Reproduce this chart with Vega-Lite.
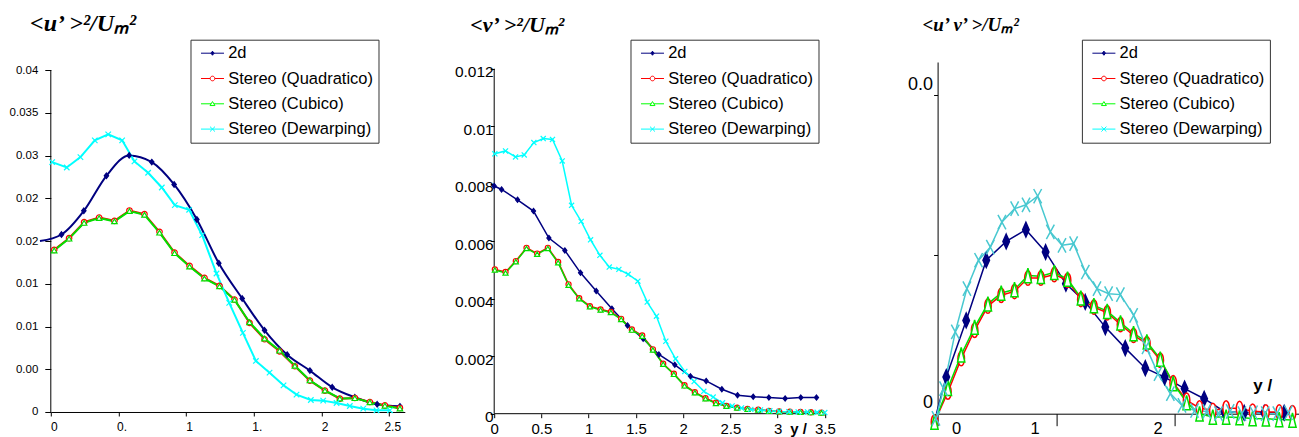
{
"$schema":"https://vega.github.io/schema/vega-lite/v6.json",
"background":"white",
"padding":{"left":8.8,"top":11,"right":0,"bottom":0},
"spacing":89.4,
"bounds":"flush",
"config":{
 "view":{"stroke":null},
 "axis":{"grid":false,"labelFont":"Liberation Sans","labelColor":"#000","domainColor":"#000","tickColor":"#000","domainWidth":1,"tickWidth":1,"labelOverlap":false,"labelFlush":false,"titleColor":"#000"},
 "legend":{"orient":"none","strokeColor":"#333","fillColor":"#fff","padding":5,"labelFont":"Liberation Sans","labelFontSize":16.5,"labelColor":"#000","symbolSize":256,"symbolStrokeWidth":1,"rowPadding":8.3,"labelOffset":15.7,"labelLimit":400,"symbolOpacity":1}
},
"resolve":{"scale":{"stroke":"independent","fill":"independent","color":"independent","shape":"independent"},"legend":{"color":"independent","shape":"independent"}},
"datasets":{
"uu":[
{"series":"2d","x":-0.08,"y":0.0200},{"series":"2d","x":0.079,"y":0.02076},{"series":"2d","x":0.244,"y":0.02353},{"series":"2d","x":0.411,"y":0.02763},{"series":"2d","x":0.579,"y":0.03001},{"series":"2d","x":0.746,"y":0.02923},{"series":"2d","x":0.911,"y":0.02661},{"series":"2d","x":1.079,"y":0.02252},{"series":"2d","x":1.241,"y":0.0174},{"series":"2d","x":1.414,"y":0.01327},{"series":"2d","x":1.579,"y":0.00956},{"series":"2d","x":1.746,"y":0.00671},{"series":"2d","x":1.914,"y":0.00484},{"series":"2d","x":2.079,"y":0.00289},{"series":"2d","x":2.246,"y":0.00172},{"series":"2d","x":2.411,"y":0.0009},{"series":"2d","x":2.579,"y":0.00066},
{"series":"Stereo (Quadratico)","x":0.025,"y":0.01897},{"series":"Stereo (Quadratico)","x":0.135,"y":0.02033},{"series":"Stereo (Quadratico)","x":0.246,"y":0.0222},{"series":"Stereo (Quadratico)","x":0.357,"y":0.02275},{"series":"Stereo (Quadratico)","x":0.47,"y":0.02236},{"series":"Stereo (Quadratico)","x":0.581,"y":0.02357},{"series":"Stereo (Quadratico)","x":0.692,"y":0.02314},{"series":"Stereo (Quadratico)","x":0.803,"y":0.02107},{"series":"Stereo (Quadratico)","x":0.914,"y":0.01865},{"series":"Stereo (Quadratico)","x":1.025,"y":0.01709},{"series":"Stereo (Quadratico)","x":1.135,"y":0.01569},{"series":"Stereo (Quadratico)","x":1.246,"y":0.01475},{"series":"Stereo (Quadratico)","x":1.357,"y":0.01315},{"series":"Stereo (Quadratico)","x":1.468,"y":0.01042},{"series":"Stereo (Quadratico)","x":1.579,"y":0.00851},{"series":"Stereo (Quadratico)","x":1.69,"y":0.0071},{"series":"Stereo (Quadratico)","x":1.803,"y":0.00535},{"series":"Stereo (Quadratico)","x":1.914,"y":0.00367},{"series":"Stereo (Quadratico)","x":2.025,"y":0.0025},{"series":"Stereo (Quadratico)","x":2.135,"y":0.00156},{"series":"Stereo (Quadratico)","x":2.246,"y":0.00164},{"series":"Stereo (Quadratico)","x":2.357,"y":0.00117},{"series":"Stereo (Quadratico)","x":2.468,"y":0.00078},{"series":"Stereo (Quadratico)","x":2.579,"y":0.00047},
{"series":"Stereo (Cubico)","x":0.025,"y":0.0189},{"series":"Stereo (Cubico)","x":0.135,"y":0.02028},{"series":"Stereo (Cubico)","x":0.246,"y":0.02212},{"series":"Stereo (Cubico)","x":0.357,"y":0.02268},{"series":"Stereo (Cubico)","x":0.47,"y":0.0223},{"series":"Stereo (Cubico)","x":0.581,"y":0.0235},{"series":"Stereo (Cubico)","x":0.692,"y":0.02306},{"series":"Stereo (Cubico)","x":0.803,"y":0.02098},{"series":"Stereo (Cubico)","x":0.914,"y":0.01858},{"series":"Stereo (Cubico)","x":1.025,"y":0.01702},{"series":"Stereo (Cubico)","x":1.135,"y":0.01562},{"series":"Stereo (Cubico)","x":1.246,"y":0.0147},{"series":"Stereo (Cubico)","x":1.357,"y":0.01312},{"series":"Stereo (Cubico)","x":1.468,"y":0.0105},{"series":"Stereo (Cubico)","x":1.579,"y":0.0086},{"series":"Stereo (Cubico)","x":1.69,"y":0.00718},{"series":"Stereo (Cubico)","x":1.803,"y":0.0054},{"series":"Stereo (Cubico)","x":1.914,"y":0.0037},{"series":"Stereo (Cubico)","x":2.025,"y":0.00252},{"series":"Stereo (Cubico)","x":2.135,"y":0.00158},{"series":"Stereo (Cubico)","x":2.246,"y":0.00162},{"series":"Stereo (Cubico)","x":2.357,"y":0.00114},{"series":"Stereo (Cubico)","x":2.468,"y":0.00074},{"series":"Stereo (Cubico)","x":2.579,"y":0.00042},
{"series":"Stereo (Dewarping)","x":0.01,"y":0.02923},{"series":"Stereo (Dewarping)","x":0.118,"y":0.0286},{"series":"Stereo (Dewarping)","x":0.219,"y":0.02981},{"series":"Stereo (Dewarping)","x":0.325,"y":0.03177},{"series":"Stereo (Dewarping)","x":0.424,"y":0.03247},{"series":"Stereo (Dewarping)","x":0.527,"y":0.03177},{"series":"Stereo (Dewarping)","x":0.618,"y":0.02931},{"series":"Stereo (Dewarping)","x":0.719,"y":0.02798},{"series":"Stereo (Dewarping)","x":0.82,"y":0.02626},{"series":"Stereo (Dewarping)","x":0.916,"y":0.0242},{"series":"Stereo (Dewarping)","x":1.022,"y":0.02365},{"series":"Stereo (Dewarping)","x":1.118,"y":0.02068},{"series":"Stereo (Dewarping)","x":1.224,"y":0.0162},{"series":"Stereo (Dewarping)","x":1.318,"y":0.01276},{"series":"Stereo (Dewarping)","x":1.419,"y":0.00925},{"series":"Stereo (Dewarping)","x":1.515,"y":0.00597},{"series":"Stereo (Dewarping)","x":1.616,"y":0.0046},{"series":"Stereo (Dewarping)","x":1.719,"y":0.00312},{"series":"Stereo (Dewarping)","x":1.815,"y":0.00203},{"series":"Stereo (Dewarping)","x":1.921,"y":0.0014},{"series":"Stereo (Dewarping)","x":2.012,"y":0.00133},{"series":"Stereo (Dewarping)","x":2.111,"y":0.00105},{"series":"Stereo (Dewarping)","x":2.209,"y":0.0007},{"series":"Stereo (Dewarping)","x":2.308,"y":0.00039},{"series":"Stereo (Dewarping)","x":2.406,"y":0.0002},{"series":"Stereo (Dewarping)","x":2.505,"y":0.0002}
],
"vv":[
{"series":"2d","x":0,"y":0.00792},{"series":"2d","x":0.078,"y":0.0078},{"series":"2d","x":0.247,"y":0.00744},{"series":"2d","x":0.416,"y":0.00705},{"series":"2d","x":0.579,"y":0.00611},{"series":"2d","x":0.748,"y":0.00568},{"series":"2d","x":0.914,"y":0.0049},{"series":"2d","x":1.08,"y":0.00427},{"series":"2d","x":1.246,"y":0.00365},{"series":"2d","x":1.411,"y":0.00307},{"series":"2d","x":1.577,"y":0.00261},{"series":"2d","x":1.743,"y":0.00206},{"series":"2d","x":1.912,"y":0.0017},{"series":"2d","x":2.078,"y":0.0013},{"series":"2d","x":2.244,"y":0.00114},{"series":"2d","x":2.41,"y":0.00085},{"series":"2d","x":2.576,"y":0.00064},{"series":"2d","x":2.742,"y":0.00059},{"series":"2d","x":2.908,"y":0.00056},{"series":"2d","x":3.08,"y":0.00053},{"series":"2d","x":3.246,"y":0.00056},{"series":"2d","x":3.412,"y":0.00056},
{"series":"Stereo (Quadratico)","x":0.007,"y":0.00502},{"series":"Stereo (Quadratico)","x":0.12,"y":0.00493},{"series":"Stereo (Quadratico)","x":0.229,"y":0.00531},{"series":"Stereo (Quadratico)","x":0.342,"y":0.00577},{"series":"Stereo (Quadratico)","x":0.455,"y":0.00557},{"series":"Stereo (Quadratico)","x":0.568,"y":0.00577},{"series":"Stereo (Quadratico)","x":0.677,"y":0.00528},{"series":"Stereo (Quadratico)","x":0.787,"y":0.0045},{"series":"Stereo (Quadratico)","x":0.9,"y":0.00402},{"series":"Stereo (Quadratico)","x":1.013,"y":0.00374},{"series":"Stereo (Quadratico)","x":1.126,"y":0.00363},{"series":"Stereo (Quadratico)","x":1.235,"y":0.00354},{"series":"Stereo (Quadratico)","x":1.344,"y":0.0033},{"series":"Stereo (Quadratico)","x":1.457,"y":0.00293},{"series":"Stereo (Quadratico)","x":1.567,"y":0.00272},{"series":"Stereo (Quadratico)","x":1.68,"y":0.00224},{"series":"Stereo (Quadratico)","x":1.789,"y":0.00174},{"series":"Stereo (Quadratico)","x":1.902,"y":0.00139},{"series":"Stereo (Quadratico)","x":2.015,"y":0.00099},{"series":"Stereo (Quadratico)","x":2.124,"y":0.00075},{"series":"Stereo (Quadratico)","x":2.237,"y":0.00054},{"series":"Stereo (Quadratico)","x":2.347,"y":0.00038},{"series":"Stereo (Quadratico)","x":2.459,"y":0.00027},{"series":"Stereo (Quadratico)","x":2.572,"y":0.00021},{"series":"Stereo (Quadratico)","x":2.682,"y":0.00017},{"series":"Stereo (Quadratico)","x":2.795,"y":0.00014},{"series":"Stereo (Quadratico)","x":2.908,"y":0.0001},{"series":"Stereo (Quadratico)","x":3.017,"y":0.00008},{"series":"Stereo (Quadratico)","x":3.13,"y":0.00007},{"series":"Stereo (Quadratico)","x":3.243,"y":0.00006},{"series":"Stereo (Quadratico)","x":3.352,"y":0.00005},{"series":"Stereo (Quadratico)","x":3.465,"y":0.00004},
{"series":"Stereo (Cubico)","x":0.007,"y":0.005},{"series":"Stereo (Cubico)","x":0.12,"y":0.0049},{"series":"Stereo (Cubico)","x":0.229,"y":0.00529},{"series":"Stereo (Cubico)","x":0.342,"y":0.00575},{"series":"Stereo (Cubico)","x":0.455,"y":0.00555},{"series":"Stereo (Cubico)","x":0.568,"y":0.00575},{"series":"Stereo (Cubico)","x":0.677,"y":0.00525},{"series":"Stereo (Cubico)","x":0.787,"y":0.00447},{"series":"Stereo (Cubico)","x":0.9,"y":0.004},{"series":"Stereo (Cubico)","x":1.013,"y":0.00372},{"series":"Stereo (Cubico)","x":1.126,"y":0.00361},{"series":"Stereo (Cubico)","x":1.235,"y":0.00352},{"series":"Stereo (Cubico)","x":1.344,"y":0.00328},{"series":"Stereo (Cubico)","x":1.457,"y":0.00291},{"series":"Stereo (Cubico)","x":1.567,"y":0.0027},{"series":"Stereo (Cubico)","x":1.68,"y":0.00222},{"series":"Stereo (Cubico)","x":1.789,"y":0.00172},{"series":"Stereo (Cubico)","x":1.902,"y":0.00137},{"series":"Stereo (Cubico)","x":2.015,"y":0.00097},{"series":"Stereo (Cubico)","x":2.124,"y":0.00073},{"series":"Stereo (Cubico)","x":2.237,"y":0.00052},{"series":"Stereo (Cubico)","x":2.347,"y":0.00036},{"series":"Stereo (Cubico)","x":2.459,"y":0.00026},{"series":"Stereo (Cubico)","x":2.572,"y":0.0002},{"series":"Stereo (Cubico)","x":2.682,"y":0.00016},{"series":"Stereo (Cubico)","x":2.795,"y":0.00013},{"series":"Stereo (Cubico)","x":2.908,"y":0.00009},{"series":"Stereo (Cubico)","x":3.017,"y":0.00007},{"series":"Stereo (Cubico)","x":3.13,"y":0.00006},{"series":"Stereo (Cubico)","x":3.243,"y":0.00005},{"series":"Stereo (Cubico)","x":3.352,"y":0.00004},{"series":"Stereo (Cubico)","x":3.465,"y":0.00003},
{"series":"Stereo (Dewarping)","x":0.007,"y":0.00904},{"series":"Stereo (Dewarping)","x":0.12,"y":0.00914},{"series":"Stereo (Dewarping)","x":0.226,"y":0.00893},{"series":"Stereo (Dewarping)","x":0.318,"y":0.009},{"series":"Stereo (Dewarping)","x":0.42,"y":0.00943},{"series":"Stereo (Dewarping)","x":0.519,"y":0.00957},{"series":"Stereo (Dewarping)","x":0.617,"y":0.00954},{"series":"Stereo (Dewarping)","x":0.72,"y":0.00879},{"series":"Stereo (Dewarping)","x":0.819,"y":0.00725},{"series":"Stereo (Dewarping)","x":0.921,"y":0.00669},{"series":"Stereo (Dewarping)","x":1.02,"y":0.00605},{"series":"Stereo (Dewarping)","x":1.119,"y":0.00551},{"series":"Stereo (Dewarping)","x":1.218,"y":0.0051},{"series":"Stereo (Dewarping)","x":1.32,"y":0.00502},{"series":"Stereo (Dewarping)","x":1.418,"y":0.00485},{"series":"Stereo (Dewarping)","x":1.521,"y":0.00461},{"series":"Stereo (Dewarping)","x":1.62,"y":0.00388},{"series":"Stereo (Dewarping)","x":1.718,"y":0.00339},{"series":"Stereo (Dewarping)","x":1.817,"y":0.00252},{"series":"Stereo (Dewarping)","x":1.92,"y":0.00191},{"series":"Stereo (Dewarping)","x":2.018,"y":0.00147},{"series":"Stereo (Dewarping)","x":2.117,"y":0.00112},{"series":"Stereo (Dewarping)","x":2.219,"y":0.00078},{"series":"Stereo (Dewarping)","x":2.318,"y":0.00058},{"series":"Stereo (Dewarping)","x":2.417,"y":0.00038},{"series":"Stereo (Dewarping)","x":2.519,"y":0.00027},{"series":"Stereo (Dewarping)","x":2.618,"y":0.0002},{"series":"Stereo (Dewarping)","x":2.717,"y":0.00015},{"series":"Stereo (Dewarping)","x":2.819,"y":0.00013},{"series":"Stereo (Dewarping)","x":2.918,"y":0.0001},{"series":"Stereo (Dewarping)","x":3.017,"y":0.00008},{"series":"Stereo (Dewarping)","x":3.119,"y":0.00007},{"series":"Stereo (Dewarping)","x":3.218,"y":0.00006},{"series":"Stereo (Dewarping)","x":3.317,"y":0.00006},{"series":"Stereo (Dewarping)","x":3.419,"y":0.00005},{"series":"Stereo (Dewarping)","x":3.5,"y":0.00004}
],
"uv":[
{"series":"2d","x":-0.01,"y":0.0},{"series":"2d","x":0.073,"y":0.00115},{"series":"2d","x":0.241,"y":0.00293},{"series":"2d","x":0.41,"y":0.00482},{"series":"2d","x":0.578,"y":0.00541},{"series":"2d","x":0.744,"y":0.00578},{"series":"2d","x":0.91,"y":0.00508},{"series":"2d","x":1.081,"y":0.00408},{"series":"2d","x":1.244,"y":0.00351},{"series":"2d","x":1.413,"y":0.00272},{"series":"2d","x":1.581,"y":0.00206},{"series":"2d","x":1.75,"y":0.00143},{"series":"2d","x":1.913,"y":0.00115},{"series":"2d","x":2.081,"y":0.00079},{"series":"2d","x":2.246,"y":0.00047},{"series":"2d","x":2.415,"y":0.00007},{"series":"2d","x":2.583,"y":0.00003},{"series":"2d","x":2.752,"y":0.00003},{"series":"2d","x":2.92,"y":0.00003},
{"series":"Stereo (Quadratico)","x":-0.026,"y":-0.00026},{"series":"Stereo (Quadratico)","x":0.087,"y":0.00068},{"series":"Stereo (Quadratico)","x":0.199,"y":0.00173},{"series":"Stereo (Quadratico)","x":0.312,"y":0.00262},{"series":"Stereo (Quadratico)","x":0.424,"y":0.00338},{"series":"Stereo (Quadratico)","x":0.536,"y":0.00372},{"series":"Stereo (Quadratico)","x":0.648,"y":0.00384},{"series":"Stereo (Quadratico)","x":0.761,"y":0.00426},{"series":"Stereo (Quadratico)","x":0.87,"y":0.00426},{"series":"Stereo (Quadratico)","x":0.983,"y":0.00437},{"series":"Stereo (Quadratico)","x":1.095,"y":0.00419},{"series":"Stereo (Quadratico)","x":1.207,"y":0.00359},{"series":"Stereo (Quadratico)","x":1.317,"y":0.00335},{"series":"Stereo (Quadratico)","x":1.429,"y":0.00317},{"series":"Stereo (Quadratico)","x":1.541,"y":0.0028},{"series":"Stereo (Quadratico)","x":1.651,"y":0.00246},{"series":"Stereo (Quadratico)","x":1.763,"y":0.0022},{"series":"Stereo (Quadratico)","x":1.876,"y":0.00168},{"series":"Stereo (Quadratico)","x":1.985,"y":0.00097},{"series":"Stereo (Quadratico)","x":2.098,"y":0.00042},{"series":"Stereo (Quadratico)","x":2.207,"y":0.00018},{"series":"Stereo (Quadratico)","x":2.319,"y":0.0001},{"series":"Stereo (Quadratico)","x":2.431,"y":0.00018},{"series":"Stereo (Quadratico)","x":2.544,"y":0.00016},{"series":"Stereo (Quadratico)","x":2.654,"y":0.00008},{"series":"Stereo (Quadratico)","x":2.766,"y":0.00005},{"series":"Stereo (Quadratico)","x":2.878,"y":0.00005},{"series":"Stereo (Quadratico)","x":2.99,"y":0.00003},
{"series":"Stereo (Cubico)","x":-0.026,"y":-0.00026},{"series":"Stereo (Cubico)","x":0.087,"y":0.0008},{"series":"Stereo (Cubico)","x":0.199,"y":0.00185},{"series":"Stereo (Cubico)","x":0.312,"y":0.00272},{"series":"Stereo (Cubico)","x":0.424,"y":0.00345},{"series":"Stereo (Cubico)","x":0.536,"y":0.00379},{"series":"Stereo (Cubico)","x":0.648,"y":0.0039},{"series":"Stereo (Cubico)","x":0.761,"y":0.00434},{"series":"Stereo (Cubico)","x":0.87,"y":0.00432},{"series":"Stereo (Cubico)","x":0.983,"y":0.00444},{"series":"Stereo (Cubico)","x":1.095,"y":0.00423},{"series":"Stereo (Cubico)","x":1.207,"y":0.00364},{"series":"Stereo (Cubico)","x":1.317,"y":0.0034},{"series":"Stereo (Cubico)","x":1.429,"y":0.00322},{"series":"Stereo (Cubico)","x":1.541,"y":0.00286},{"series":"Stereo (Cubico)","x":1.651,"y":0.00252},{"series":"Stereo (Cubico)","x":1.763,"y":0.00226},{"series":"Stereo (Cubico)","x":1.876,"y":0.00172},{"series":"Stereo (Cubico)","x":1.985,"y":0.00095},{"series":"Stereo (Cubico)","x":2.098,"y":0.00035},{"series":"Stereo (Cubico)","x":2.207,"y":0.0},{"series":"Stereo (Cubico)","x":2.319,"y":-0.0001},{"series":"Stereo (Cubico)","x":2.431,"y":-0.0001},{"series":"Stereo (Cubico)","x":2.544,"y":-0.00012},{"series":"Stereo (Cubico)","x":2.654,"y":-0.00015},{"series":"Stereo (Cubico)","x":2.766,"y":-0.00016},{"series":"Stereo (Cubico)","x":2.878,"y":-0.00018},{"series":"Stereo (Cubico)","x":2.99,"y":-0.0002},
{"series":"Stereo (Dewarping)","x":-0.014,"y":-0.00015},{"series":"Stereo (Dewarping)","x":0.05,"y":0.00079},{"series":"Stereo (Dewarping)","x":0.149,"y":0.00257},{"series":"Stereo (Dewarping)","x":0.247,"y":0.00393},{"series":"Stereo (Dewarping)","x":0.345,"y":0.00482},{"series":"Stereo (Dewarping)","x":0.444,"y":0.00523},{"series":"Stereo (Dewarping)","x":0.542,"y":0.00602},{"series":"Stereo (Dewarping)","x":0.649,"y":0.00644},{"series":"Stereo (Dewarping)","x":0.745,"y":0.00656},{"series":"Stereo (Dewarping)","x":0.843,"y":0.00683},{"series":"Stereo (Dewarping)","x":0.95,"y":0.00571},{"series":"Stereo (Dewarping)","x":1.048,"y":0.00529},{"series":"Stereo (Dewarping)","x":1.146,"y":0.00534},{"series":"Stereo (Dewarping)","x":1.245,"y":0.00445},{"series":"Stereo (Dewarping)","x":1.343,"y":0.00393},{"series":"Stereo (Dewarping)","x":1.441,"y":0.00377},{"series":"Stereo (Dewarping)","x":1.54,"y":0.00374},{"series":"Stereo (Dewarping)","x":1.652,"y":0.00309},{"series":"Stereo (Dewarping)","x":1.756,"y":0.0021},{"series":"Stereo (Dewarping)","x":1.857,"y":0.00126},{"series":"Stereo (Dewarping)","x":1.961,"y":0.00063},{"series":"Stereo (Dewarping)","x":2.059,"y":0.00026},{"series":"Stereo (Dewarping)","x":2.165,"y":0.0001},{"series":"Stereo (Dewarping)","x":2.268,"y":0.00007},{"series":"Stereo (Dewarping)","x":2.367,"y":0.0},{"series":"Stereo (Dewarping)","x":2.465,"y":0.00007},{"series":"Stereo (Dewarping)","x":2.564,"y":0.0},{"series":"Stereo (Dewarping)","x":2.662,"y":0.00003},{"series":"Stereo (Dewarping)","x":2.76,"y":0.0},{"series":"Stereo (Dewarping)","x":2.858,"y":0.0},{"series":"Stereo (Dewarping)","x":2.956,"y":0.00003}
]
},
"hconcat":[
{
 "width":354,"height":350,
 "data":{"name":"uu"},
 "layer":[
  {"data":{"values":[{}]},"mark":{"type":"rule","color":"#000","strokeWidth":1},"encoding":{"x":{"datum":0,"type":"quantitative"},"y":{"datum":0,"type":"quantitative"},"y2":{"datum":0.04}}},
  {"transform":[{"filter":"datum.series=='2d'"}],"mark":{"type":"line","interpolate":"monotone","strokeWidth":2},
   "encoding":{
    "x":{"field":"x","type":"quantitative","scale":{"domain":[0,2.615],"nice":false,"zero":false},"axis":{"values":[0,0.5,1,1.5,2,2.5],"labelExpr":"datum.value==0.5?'0.':datum.value==1.5?'1.':format(datum.value,'~g')","labelFontSize":12,"tickSize":4,"labelPadding":6,"labelOffset":3,"title":null}},
    "y":{"field":"y","type":"quantitative","scale":{"domain":[0,0.040936],"nice":false,"zero":false},"axis":{"values":[0,0.005,0.01,0.015,0.02,0.025,0.03,0.035,0.04],"labelExpr":"datum.value==0?'0':abs(datum.value-0.035)<0.000001?'0.035':substring(format(datum.value,'.3f'),0,4)","labelFontSize":11.5,"tickSize":6,"labelPadding":7,"domain":false,"title":"<u’ >²/Uₘ²","titleAngle":0,"titleAlign":"left","titleBaseline":"alphabetic","titleX":-21.3,"titleY":-31.7,"titleFont":"Liberation Serif","titleFontStyle":"italic","titleFontWeight":"bold","titleFontSize":24}},
    "stroke":{"field":"series","type":"nominal","scale":{"domain":["2d","Stereo (Quadratico)","Stereo (Cubico)","Stereo (Dewarping)"],"range":["#000080","#FF0000","#00E000","#00FFFF"]},"legend":null}
   }},
  {"transform":[{"filter":"datum.series!='2d'"}],"mark":{"type":"line","strokeWidth":2},
   "encoding":{"x":{"field":"x","type":"quantitative"},"y":{"field":"y","type":"quantitative"},
    "stroke":{"field":"series","type":"nominal","scale":{"domain":["2d","Stereo (Quadratico)","Stereo (Cubico)","Stereo (Dewarping)"],"range":["#000080","#FF0000","#00E000","#00FFFF"]},"legend":null}}},
  {"transform":[{"filter":"datum.x>=0"}],"mark":{"type":"point","filled":true,"opacity":1,"strokeWidth":1.2,"size":30},
   "encoding":{"x":{"field":"x","type":"quantitative"},"y":{"field":"y","type":"quantitative"},
    "stroke":{"field":"series","type":"nominal","scale":{"domain":["2d","Stereo (Quadratico)","Stereo (Cubico)","Stereo (Dewarping)"],"range":["#000080","#FF0000","#00E000","#00FFFF"]},"legend":null},
    "fill":{"field":"series","type":"nominal","scale":{"domain":["2d","Stereo (Quadratico)","Stereo (Cubico)","Stereo (Dewarping)"],"range":["#000080","#FFFFFF","#FFFFFF","#FFFFFF"]},"legend":null},
    "shape":{"field":"series","type":"nominal","scale":{"domain":["2d","Stereo (Quadratico)","Stereo (Cubico)","Stereo (Dewarping)"],"range":["M0,-1L0.8,0L0,1L-0.8,0Z","circle","triangle-up","M-1,-1L1,1M-1,1L1,-1"]},"legend":null}}},
  {"data":{"values":[{"series":"2d"}]},"transform":[{"filter":"false"}],"mark":{"type":"point","filled":false,"fill":"#FFFFFF","strokeWidth":1,"opacity":1},
   "encoding":{
    "color":{"field":"series","type":"nominal","scale":{"domain":["2d","Stereo (Quadratico)","Stereo (Cubico)","Stereo (Dewarping)"],"range":["#000080","#FF0000","#00FF00","#00FFFF"]},"legend":{"title":null,"legendX":139.7,"legendY":-22.3}},
    "shape":{"field":"series","type":"nominal","scale":{"domain":["2d","Stereo (Quadratico)","Stereo (Cubico)","Stereo (Dewarping)"],"range":["M-0.375,0H2.5M1.0625,-0.25L1.27,0L1.0625,0.25L0.855,0ZM1.0625,-0.12L1.165,0L1.0625,0.12L0.96,0ZM1.0625,-0.25V0.25","M-0.375,0H0.7725M1.3525,0H2.5M1.3525,0A0.29,0.29 0 1,1 0.7725,0A0.29,0.29 0 1,1 1.3525,0Z","M-0.375,0H0.889M1.236,0H2.5M1.0625,-0.28L1.3725,0.22L0.7525,0.22Z","M-0.375,0H2.5M0.75,-0.31L1.375,0.31M0.75,0.31L1.375,-0.31"]},"legend":{"title":null,"legendX":139.7,"legendY":-22.3}}
   }}
 ],
 "resolve":{"scale":{"shape":"independent","color":"independent"}}
},
{
 "width":353.6,"height":351.7,
 "data":{"name":"vv"},
 "layer":[
  {"data":{"values":[{}]},"mark":{"type":"rule","color":"#000","strokeWidth":1},"encoding":{"x":{"datum":0,"type":"quantitative"},"y":{"datum":0,"type":"quantitative"},"y2":{"datum":0.012}}},
  {"data":{"values":[{}]},"mark":{"type":"rule","color":"#000","strokeWidth":1},"encoding":{"x":{"datum":0,"type":"quantitative"},"x2":{"datum":3.5},"y":{"datum":0,"type":"quantitative"}}},
  {"mark":{"type":"line","strokeWidth":1.5},
   "encoding":{
    "x":{"field":"x","type":"quantitative","scale":{"domain":[0,3.7434],"nice":false,"zero":false},"axis":{"values":[0,0.5,1,1.5,2,2.5,3,3.5],"labelExpr":"format(datum.value,'~g')","labelFontSize":15,"tickSize":4,"labelPadding":4,"domain":false,"title":"y /","titleFont":"Liberation Sans","titleFontWeight":"bold","titleFontSize":15,"titleAngle":0,"titleAlign":"center","titleBaseline":"middle","titleX":304,"titleY":14.5}},
    "y":{"field":"y","type":"quantitative","scale":{"domain":[0,0.012233],"nice":false,"zero":false},"axis":{"values":[0,0.002,0.004,0.006,0.008,0.01,0.012],"labelExpr":"format(datum.value,'~g')","labelFontSize":15.5,"tickSize":4,"labelPadding":-3,"labelOffset":3,"domain":false,"title":"<v’ >²/Uₘ²","titleAngle":0,"titleAlign":"left","titleBaseline":"alphabetic","titleX":-24.4,"titleY":-30.7,"titleFont":"Liberation Serif","titleFontStyle":"italic","titleFontWeight":"bold","titleFontSize":22}},
    "stroke":{"field":"series","type":"nominal","scale":{"domain":["2d","Stereo (Quadratico)","Stereo (Cubico)","Stereo (Dewarping)"],"range":["#000080","#FF0000","#00E000","#00FFFF"]},"legend":null}
   }},
  {"mark":{"type":"point","filled":true,"opacity":1,"strokeWidth":1.2,"size":26},
   "encoding":{"x":{"field":"x","type":"quantitative"},"y":{"field":"y","type":"quantitative"},
    "stroke":{"field":"series","type":"nominal","scale":{"domain":["2d","Stereo (Quadratico)","Stereo (Cubico)","Stereo (Dewarping)"],"range":["#000080","#FF0000","#00E000","#00FFFF"]},"legend":null},
    "fill":{"field":"series","type":"nominal","scale":{"domain":["2d","Stereo (Quadratico)","Stereo (Cubico)","Stereo (Dewarping)"],"range":["#000080","#FFFFFF","#FFFFFF","#FFFFFF"]},"legend":null},
    "shape":{"field":"series","type":"nominal","scale":{"domain":["2d","Stereo (Quadratico)","Stereo (Cubico)","Stereo (Dewarping)"],"range":["M0,-1L0.8,0L0,1L-0.8,0Z","circle","triangle-up","M-1,-1L1,1M-1,1L1,-1"]},"legend":null}}},
  {"data":{"values":[{"series":"2d"}]},"transform":[{"filter":"false"}],"mark":{"type":"point","filled":false,"fill":"#FFFFFF","strokeWidth":1,"opacity":1},
   "encoding":{
    "color":{"field":"series","type":"nominal","scale":{"domain":["2d","Stereo (Quadratico)","Stereo (Cubico)","Stereo (Dewarping)"],"range":["#000080","#FF0000","#00FF00","#00FFFF"]},"legend":{"title":null,"legendX":136.3,"legendY":-22.3}},
    "shape":{"field":"series","type":"nominal","scale":{"domain":["2d","Stereo (Quadratico)","Stereo (Cubico)","Stereo (Dewarping)"],"range":["M-0.375,0H2.5M1.0625,-0.25L1.27,0L1.0625,0.25L0.855,0ZM1.0625,-0.12L1.165,0L1.0625,0.12L0.96,0ZM1.0625,-0.25V0.25","M-0.375,0H0.7725M1.3525,0H2.5M1.3525,0A0.29,0.29 0 1,1 0.7725,0A0.29,0.29 0 1,1 1.3525,0Z","M-0.375,0H0.889M1.236,0H2.5M1.0625,-0.28L1.3725,0.22L0.7525,0.22Z","M-0.375,0H2.5M0.75,-0.31L1.375,0.31M0.75,0.31L1.375,-0.31"]},"legend":{"title":null,"legendX":136.3,"legendY":-22.3}}
   }}
 ],
 "resolve":{"scale":{"shape":"independent","color":"independent"}}
},
{
 "width":362,"height":351.7,
 "data":{"name":"uv"},
 "layer":[
  {"mark":{"type":"line","strokeWidth":1.5},
   "encoding":{
    "x":{"field":"x","type":"quantitative","scale":{"domain":[0,3.05],"nice":false,"zero":false},"axis":{"values":[0,1,2,3],"labelExpr":"datum.value==3?'':format(datum.value,'d')","labelFontSize":16.5,"tickSize":12,"labelPadding":-5,"labelOffset":{"condition":[{"test":"datum.value==0","value":18.6},{"test":"datum.value==1","value":-21.6}],"value":-17.3},"title":"y /","titleFont":"Liberation Sans","titleFontWeight":"bold","titleFontSize":17,"titleAngle":0,"titleAlign":"center","titleBaseline":"middle","titleX":324.6,"titleY":-28.4}},
    "y":{"field":"y","type":"quantitative","scale":{"domain":[0,0.011046],"nice":false,"zero":false},"axis":{"values":[0,0.005,0.01],"labelExpr":"datum.value==0?'0':datum.value==0.01?'0.0':''","labelFontSize":18,"tickSize":4,"labelPadding":1,"labelOffset":-11,"title":"<u’ v’ >/Uₘ²","titleAngle":0,"titleAlign":"left","titleBaseline":"alphabetic","titleX":-15.7,"titleY":-31.7,"titleFont":"Liberation Serif","titleFontStyle":"italic","titleFontWeight":"bold","titleFontSize":19}},
    "stroke":{"field":"series","type":"nominal","scale":{"domain":["2d","Stereo (Quadratico)","Stereo (Cubico)","Stereo (Dewarping)"],"range":["#000080","#FF0000","#00E000","#48C8D0"]},"legend":null}
   }},
  {"transform":[{"filter":"!(datum.series=='2d' && datum.x<0.02)"}],"mark":{"type":"point","filled":true,"opacity":1,"strokeWidth":1.5,"size":210},
   "encoding":{"x":{"field":"x","type":"quantitative"},"y":{"field":"y","type":"quantitative"},
    "stroke":{"field":"series","type":"nominal","scale":{"domain":["2d","Stereo (Quadratico)","Stereo (Cubico)","Stereo (Dewarping)"],"range":["#000080","#FF0000","#00E000","#48C8D0"]},"legend":null},
    "fill":{"field":"series","type":"nominal","scale":{"domain":["2d","Stereo (Quadratico)","Stereo (Cubico)","Stereo (Dewarping)"],"range":["#000080","#FFFFFF","#FFFFFF","#FFFFFF"]},"legend":null},
    "shape":{"field":"series","type":"nominal","scale":{"domain":["2d","Stereo (Quadratico)","Stereo (Cubico)","Stereo (Dewarping)"],"range":["M0,-1L0.45,0L0,1L-0.45,0Z","M0.45,0A0.45,1 0 1,1 -0.45,0A0.45,1 0 1,1 0.45,0Z","M0,-1L0.5,1L-0.5,1Z","M-0.55,-1L0.55,1M-0.55,1L0.55,-1"]},"legend":null}}},
  {"data":{"values":[{"series":"2d"}]},"transform":[{"filter":"false"}],"mark":{"type":"point","filled":false,"fill":"#FFFFFF","strokeWidth":1,"opacity":1},
   "encoding":{
    "color":{"field":"series","type":"nominal","scale":{"domain":["2d","Stereo (Quadratico)","Stereo (Cubico)","Stereo (Dewarping)"],"range":["#000080","#FF0000","#00FF00","#00FFFF"]},"legend":{"title":null,"legendX":144.3,"legendY":-22.3}},
    "shape":{"field":"series","type":"nominal","scale":{"domain":["2d","Stereo (Quadratico)","Stereo (Cubico)","Stereo (Dewarping)"],"range":["M-0.375,0H2.5M1.0625,-0.25L1.27,0L1.0625,0.25L0.855,0ZM1.0625,-0.12L1.165,0L1.0625,0.12L0.96,0ZM1.0625,-0.25V0.25","M-0.375,0H0.7725M1.3525,0H2.5M1.3525,0A0.29,0.29 0 1,1 0.7725,0A0.29,0.29 0 1,1 1.3525,0Z","M-0.375,0H0.889M1.236,0H2.5M1.0625,-0.28L1.3725,0.22L0.7525,0.22Z","M-0.375,0H2.5M0.75,-0.31L1.375,0.31M0.75,0.31L1.375,-0.31"]},"legend":{"title":null,"legendX":144.3,"legendY":-22.3}}
   }}
 ],
 "resolve":{"scale":{"shape":"independent","color":"independent"}}
}
]
}
